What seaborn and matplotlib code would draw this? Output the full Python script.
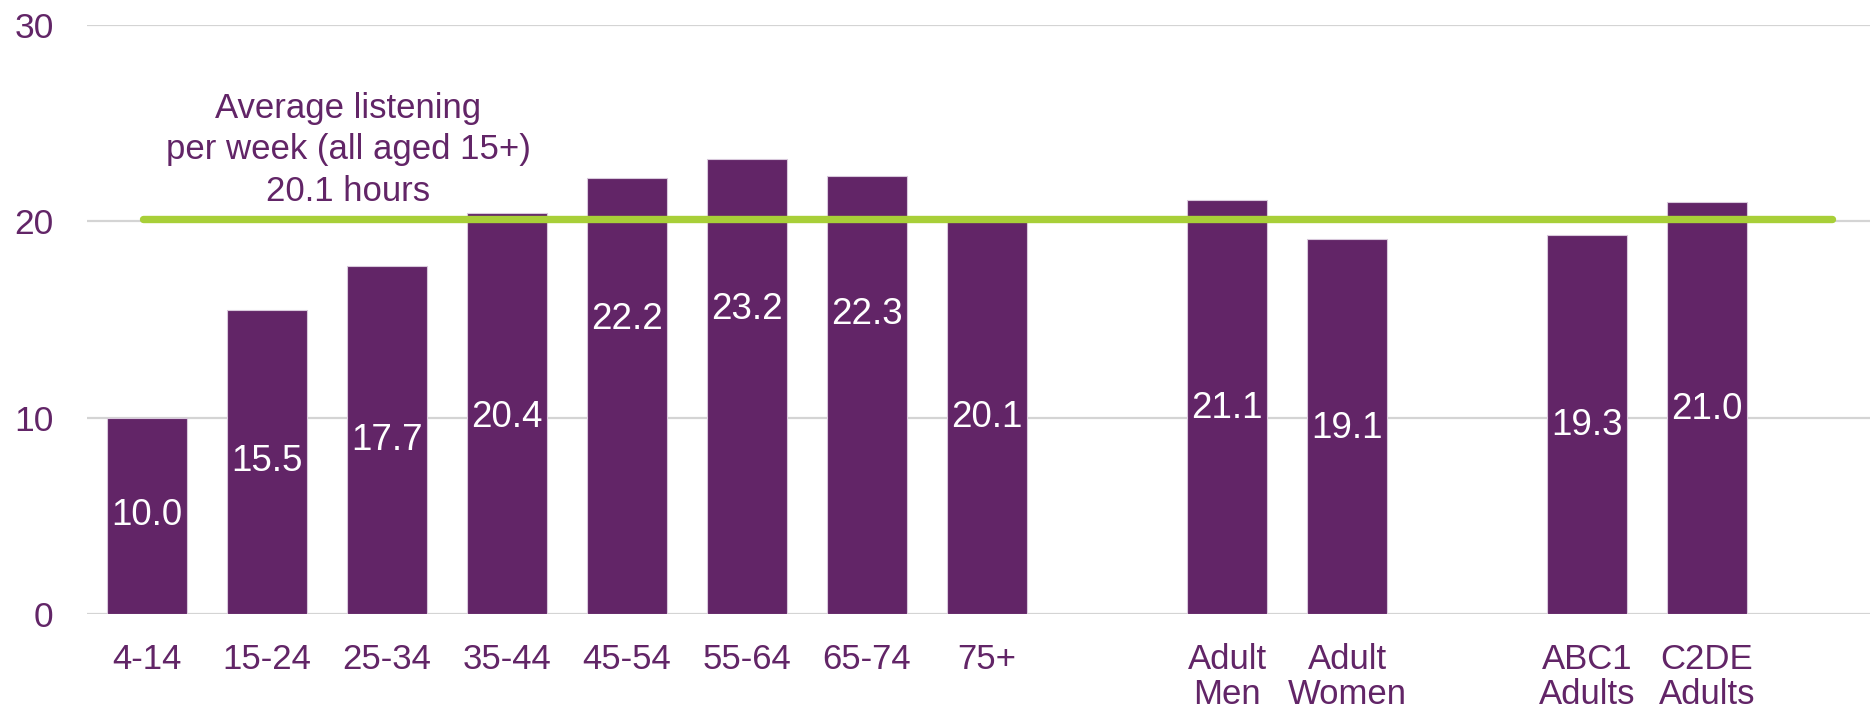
import matplotlib
matplotlib.use("Agg")
import matplotlib.pyplot as plt
import seaborn as sns
import pandas as pd
import numpy as np

categories = ["4-14", "15-24", "25-34", "35-44", "45-54", "55-64", "65-74", "75+",
              "", "Adult\nMen", "Adult\nWomen", " ", "ABC1\nAdults", "C2DE\nAdults"]
values = [10.0, 15.5, 17.7, 20.4, 22.2, 23.2, 22.3, 20.1,
          np.nan, 21.1, 19.1, np.nan, 19.3, 21.0]
label_frac = [0.5, 0.5, 0.5, 0.49, 0.675, 0.668, 0.684, 0.497,
              0.5, 0.497, 0.495, 0.5, 0.497, 0.495]
average = 20.1
avg_text = "Average listening\nper week (all aged 15+)\n20.1 hours"
yticks = [0, 10, 20, 30]

PURPLE = "#622567"
GREEN = "#A8CF38"
GRID = "#D4D4D4"

sns.set_theme(style="white")
plt.rcParams["font.family"] = ["Liberation Sans", "DejaVu Sans"]

df = pd.DataFrame({"cat": categories, "val": values})

fig = plt.figure(figsize=(18.7, 7.12), dpi=100)
ax = fig.add_axes([87 / 1870, 1 - 614 / 712, 1 - 87 / 1870, (614 - 25) / 712])

sns.barplot(data=df, x="cat", y="val", color=PURPLE, saturation=1, width=0.667,
            edgecolor="#d9c9dc", linewidth=0.8, ax=ax, order=categories, zorder=2)

ax.set_ylim(0, 30)
ax.set_xlim(-0.5, (1870 - 147) / 120)
ax.set_yticks(yticks)
ax.yaxis.grid(True, color=GRID, linewidth=1.6, zorder=0)
ax.set_axisbelow(True)
for s in ax.spines.values():
    s.set_visible(False)
ax.set_xlabel("")
ax.set_ylabel("")
ax.tick_params(axis="y", length=0, pad=24, labelsize=25.5, labelcolor=PURPLE)
ax.tick_params(axis="x", length=0, pad=21, labelsize=25, labelcolor=PURPLE)
for lbl in ax.get_xticklabels():
    lbl.set_linespacing(1.06)

# value labels
for i, (v, f) in enumerate(zip(values, label_frac)):
    if np.isnan(v):
        continue
    ax.text(i, v * f, f"{v:.1f}", ha="center", va="center", color="white",
            fontsize=26.5, zorder=5)

# average line
ax.plot([-0.03, 14.04], [average, average], color=GREEN, linewidth=5.3,
        solid_capstyle="round", zorder=4)

ax.text(1.675, 23.65, avg_text, ha="center", va="center", color=PURPLE,
        fontsize=25, linespacing=1.33, zorder=5)

fig.savefig("out.png", dpi=100)
